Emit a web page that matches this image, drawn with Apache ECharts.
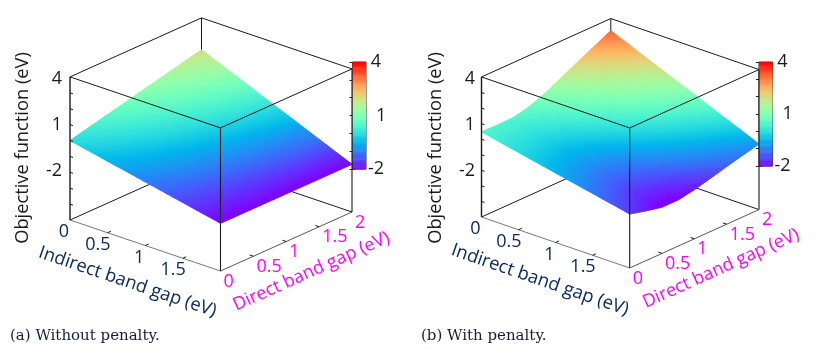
<!DOCTYPE html>
<html><head><meta charset="utf-8">
<style>html,body{margin:0;padding:0;background:#fff}#c{width:818px;height:354px}</style>
<script src="https://cdn.jsdelivr.net/npm/echarts@6/dist/echarts.min.js"></script>
</head><body><div id="c"></div>
<script>
// Data
const indirectLevels = [0, 0.5, 1, 1.5, 2];
const directLevelsA = [0, 0.5, 1, 1.5, 2];
const directLevelsB = [0, 0.25, 0.5, 0.75, 1, 1.25, 1.5, 1.75, 2];
// rows: indirect gap; columns: direct gap
const objectiveWithoutPenalty = [
  [ 0.00,  0.50,  1.00,  1.50,  2.00],
  [-0.50, -0.13,  0.25,  0.63,  1.00],
  [-1.00, -0.75, -0.50, -0.25,  0.00],
  [-1.50, -1.38, -1.25, -1.13, -1.00],
  [-2.00, -2.00, -2.00, -2.00, -2.00]
];
const objectiveWithPenalty = [
  [ 0.47,  0.45,  0.47,  0.72,  1.15,  1.67,  2.20,  2.71,  3.22],
  [-0.03, -0.11, -0.16,  0.03,  0.40,  0.86,  1.33,  1.77,  2.22],
  [-0.53, -0.68, -0.78, -0.66, -0.35,  0.04,  0.45,  0.83,  1.22],
  [-1.03, -1.24, -1.41, -1.34, -1.10, -0.77, -0.43, -0.10,  0.22],
  [-1.53, -1.80, -2.03, -2.03, -1.85, -1.58, -1.30, -1.04, -0.78]
];
const indirectTicks = [0, 0.5, 1, 1.5];
const directTicks = [0, 0.5, 1, 1.5, 2];
const zTicks = [4, 1, -2];
const zMin = -5, zMax = 4, gapMax = 2;
const colorMin = -2, colorMax = 4;
const captions = ['(a) Without penalty.', '(b) With penalty.'];
const zTitle = 'Objective function (eV)';
const indirectTitle = 'Indirect band gap (eV)';
const directTitle = 'Direct band gap (eV)';

const FONT = '"Open Sans"';
const NAVY = '#0c2a63', MAGENTA = '#ff00ff', INK = '#1a1a1a';

// Layout of each orthographic box
const panels = [
  { L:70, T:17, W:282, H:254, oy:51, Ix:75.25, Iy:-25.5, Dx:65.75, Dy:29.5, Zy:15.9,
    D:directLevelsA, Z:objectiveWithoutPenalty, subI:22, subD:22,
    zLab:[62,79,125,171], zTitle:[23,148], iTitle:[127.5,282], dTitle:[311.5,271.5],
    bar:{left:352.5,top:62,width:13.5,height:107} },
  { L:481.5, T:18, W:277.5, H:250, oy:51, Ix:74.1, Iy:-25.5, Dx:64.65, Dy:29.2, Zy:15.56,
    D:directLevelsB, Z:objectiveWithPenalty, subI:22, subD:11,
    zLab:[475,79,125,171], zTitle:[436,148], iTitle:[540,280], dTitle:[721,268.5],
    bar:{left:759,top:62,width:13.5,height:104} }
];

// gnuplot-style rainbow palette
function colorOf(z) {
  let t = (z - colorMin) / (colorMax - colorMin);
  t = Math.max(0, Math.min(1, t));
  const cl = v => Math.round(255 * Math.max(0, Math.min(1, v)));
  return 'rgb(' + cl(Math.abs(2*t - 0.5)) + ',' + cl(Math.sin(Math.PI*t)) + ',' + cl(Math.cos(Math.PI*t/2)) + ')';
}

function makeProject(p, api) {
  return (I, D, z) => api.coord([I*p.Ix + D*p.Dx, p.oy + I*p.Iy + D*p.Dy + (z - zMin)*p.Zy]);
}
function seg(a, b, color, w) {
  return { type:'line', shape:{x1:a[0],y1:a[1],x2:b[0],y2:b[1]}, style:{stroke:color, lineWidth:w} };
}
function txt(x, y, text, size, fill, rot, align) {
  return { type:'text', x, y, rotation:rot||0, silent:true,
    style:{ text, fontFamily:FONT, fontSize:size, fill, align:align||'center', verticalAlign:'middle' } };
}

function backFrame(p) {
  return (params, api) => {
    const P = makeProject(p, api), c = [];
    c.push(seg(P(0,0,zMin), P(0,gapMax,zMin), INK, 1));
    c.push(seg(P(0,gapMax,zMin), P(gapMax,gapMax,zMin), INK, 1));
    c.push(seg(P(0,gapMax,zMin), P(0,gapMax,zMax), INK, 1));
    return { type:'group', children:c };
  };
}
function surface(p) {
  return (params, api) => {
    const P = makeProject(p, api);
    const i = api.value(0), j = api.value(1);
    const Is = indirectLevels, Ds = p.D, Z = p.Z, c = [];
    const z00=Z[i][j], z01=Z[i][j+1], z10=Z[i+1][j], z11=Z[i+1][j+1];
    const bil = (a,b) => z00*(1-a)*(1-b)+z01*(1-a)*b+z10*a*(1-b)+z11*a*b;
    const pos = (a,b) => P(Is[i]+(Is[i+1]-Is[i])*a, Ds[j]+(Ds[j+1]-Ds[j])*b, bil(a,b));
    for (let m=0;m<p.subI;m++) for (let n=0;n<p.subD;n++) {
      const a0=m/p.subI,a1=(m+1)/p.subI,b0=n/p.subD,b1=(n+1)/p.subD;
      const col = colorOf(bil((a0+a1)/2,(b0+b1)/2));
      c.push({ type:'polygon', shape:{points:[pos(a0,b0),pos(a0,b1),pos(a1,b1),pos(a1,b0)]},
        style:{fill:col, stroke:col, lineWidth:0.9} });
    }
    return { type:'group', children:c };
  };
}
function frontFrame(p) {
  return (params, api) => {
    const P = makeProject(p, api), c = [];
    const g = gapMax;
    // top rectangle
    c.push(seg(P(0,0,zMax), P(g,0,zMax), INK, 1));
    c.push(seg(P(g,0,zMax), P(g,g,zMax), INK, 1));
    c.push(seg(P(g,g,zMax), P(0,g,zMax), INK, 1));
    c.push(seg(P(0,g,zMax), P(0,0,zMax), INK, 1));
    // verticals
    c.push(seg(P(0,0,zMin), P(0,0,zMax), INK, 1.4));
    c.push(seg(P(g,0,zMin), P(g,0,zMax), INK, 1.1));
    c.push(seg(P(g,g,zMin), P(g,g,zMax), INK, 1.1));
    // floor front edges
    c.push(seg(P(0,0,zMin), P(g,0,zMin), '#555', 0.8));
    c.push(seg(P(g,0,zMin), P(g,g,zMin), '#444', 0.9));
    // ticks
    [0.5,1,1.5].forEach(v => {
      c.push(seg(P(v,0,zMin), P(v,0.05,zMin), INK, 1));
      c.push(seg(P(g,v,zMin), P(g-0.05,v,zMin), INK, 1));
    });
    for (let z=zMin+1;z<zMax;z++) c.push(seg(P(0,0,z), P(0.04,0,z), INK, 1));
    // tick labels
    indirectTicks.forEach(v => {
      const q = P(v,0,zMin);
      c.push(txt(q[0]+(v%1?3:-1), q[1]+12, String(v), 18, NAVY, 0, 'right'));
    });
    directTicks.forEach(v => {
      const q = P(g,v,zMin);
      c.push(txt(q[0]+3, q[1]+10.5, String(v), 18, MAGENTA, 0, 'left'));
    });
    zTicks.forEach((v,k) => {
      c.push(txt(p.zLab[0], p.zLab[k+1], String(v), 18, INK, 0, 'right'));
    });
    // titles
    c.push(txt(p.zTitle[0], p.zTitle[1], zTitle, 18.3, INK, Math.PI/2));
    c.push(txt(p.iTitle[0], p.iTitle[1], indirectTitle, 18.3, NAVY, Math.atan(p.Iy/p.Ix)));
    c.push(txt(p.dTitle[0], p.dTitle[1], directTitle, 18, MAGENTA, Math.atan(p.Dy/p.Dx)));
    return { type:'group', children:c };
  };
}
function cellData(p) {
  const out = [];
  for (let i=0;i<indirectLevels.length-1;i++)
    for (let j=p.D.length-2;j>=0;j--) out.push([i,j]);
  return out;
}

const grid=[], xAxis=[], yAxis=[], series=[];
panels.forEach((p,k) => {
  // 3D box plane
  const gi = grid.length;
  grid.push({ left:p.L, top:p.T, width:p.W, height:p.H, show:false });
  xAxis.push({ type:'value', gridIndex:gi, min:0, max:p.W, show:false });
  const yi = yAxis.length;
  yAxis.push({ type:'value', gridIndex:gi, min:0, max:p.H, show:false });
  const base = { type:'custom', coordinateSystem:'cartesian2d', xAxisIndex:gi, yAxisIndex:yi,
    clip:false, silent:true, animation:false, progressive:0 };
  series.push(Object.assign({}, base, { z:1, renderItem:backFrame(p), data:[[0,0]] }));
  series.push(Object.assign({}, base, { z:2, renderItem:surface(p), data:cellData(p), encode:{x:0,y:1} }));
  series.push(Object.assign({}, base, { z:3, renderItem:frontFrame(p), data:[[0,0]] }));

  // colour bar
  const bi = grid.length;
  grid.push(Object.assign({ show:true, borderColor:'#333', borderWidth:1, backgroundColor:'transparent' }, p.bar));
  xAxis.push({ type:'value', gridIndex:bi, min:0, max:1, show:false });
  const by = yAxis.length;
  const tickStyle = {color:'#222', width:1};
  yAxis.push({ type:'value', gridIndex:bi, position:'right', min:colorMin, max:colorMax, interval:3,
    axisLine:{show:false}, splitLine:{show:false},
    axisTick:{show:true, inside:true, length:3, lineStyle:tickStyle},
    minorTick:{show:true, splitNumber:3, length:3, lineStyle:tickStyle},
    axisLabel:{show:true, margin:10, fontFamily:FONT, fontSize:18, color:INK, showMinLabel:true, showMaxLabel:true, alignMinLabel:'middle', alignMaxLabel:'middle'} });
  yAxis.push({ type:'value', gridIndex:bi, position:'left', min:colorMin, max:colorMax, interval:3,
    axisLine:{show:false}, splitLine:{show:false}, axisLabel:{show:false},
    axisTick:{show:true, inside:true, length:3, lineStyle:tickStyle},
    minorTick:{show:true, splitNumber:3, length:3, lineStyle:tickStyle} });
  const levels = [];
  for (let n=0;n<120;n++) levels.push([colorMin+(colorMax-colorMin)*n/120]);
  series.push({ type:'custom', coordinateSystem:'cartesian2d', xAxisIndex:bi, yAxisIndex:by,
    silent:true, animation:false, z:1, data:levels, encode:{y:0},
    renderItem:(params, api) => {
      const v = api.value(0), a = api.coord([0,v]), b = api.coord([1,v+(colorMax-colorMin)/120]);
      const col = colorOf(v+(colorMax-colorMin)/240);
      return { type:'rect', shape:{x:a[0],y:b[1],width:b[0]-a[0],height:a[1]-b[1]+0.5}, style:{fill:col} };
    } });
});

const capStyle = {fontFamily:'"DejaVu Serif"', fontSize:15, fontWeight:'normal', color:'#142038'};
const chart = echarts.init(document.getElementById('c'), null, {renderer:'canvas'});
chart.setOption({
  backgroundColor:'#fff', animation:false, tooltip:{show:false},
  title:[
    { text:captions[0], left:10, top:329, textStyle:capStyle, padding:0 },
    { text:captions[1], left:421, top:329, textStyle:capStyle, padding:0 }
  ],
  grid, xAxis, yAxis, series
});
</script></body></html>
